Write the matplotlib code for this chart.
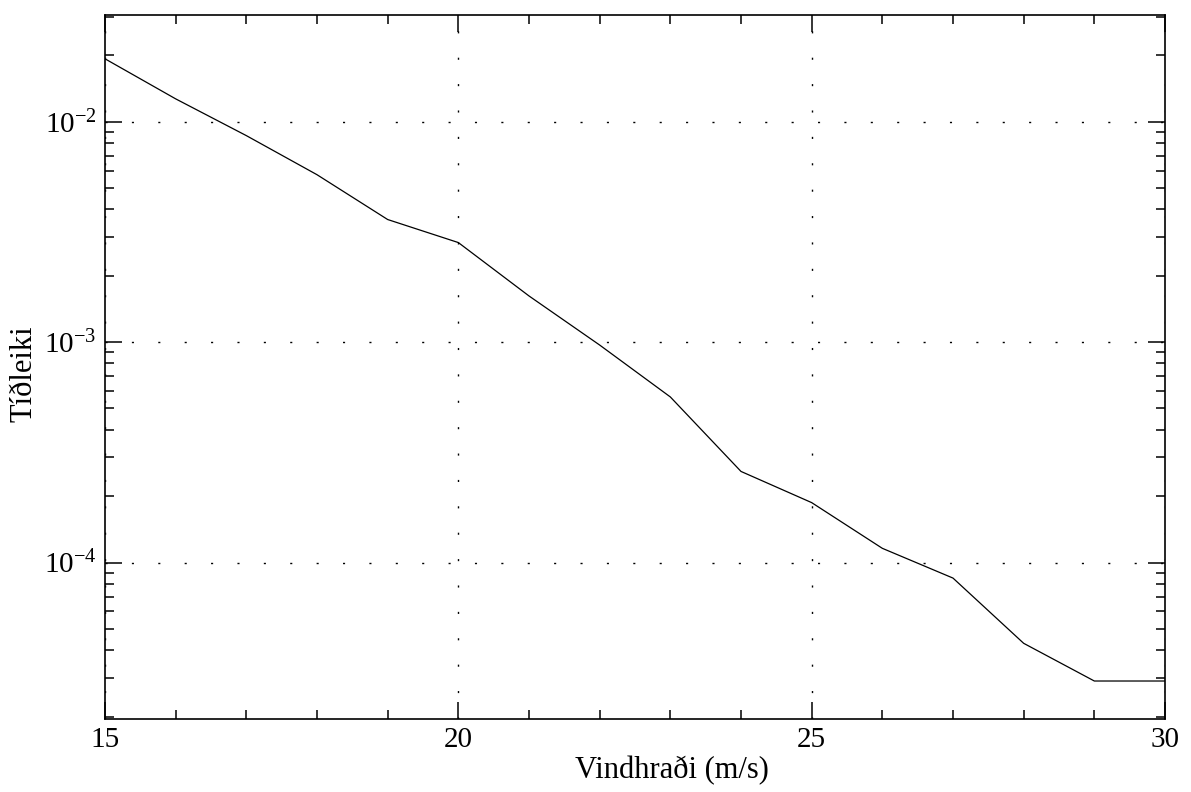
import numpy as np
import matplotlib
matplotlib.use("Agg")
import matplotlib.pyplot as plt
from matplotlib.ticker import LogLocator, LogFormatterMathtext, MultipleLocator, FixedLocator

plt.rcParams['font.family'] = ['Liberation Serif', 'DejaVu Serif']
plt.rcParams['mathtext.fontset'] = 'custom'
plt.rcParams['mathtext.rm'] = 'Liberation Serif'
plt.rcParams['mathtext.default'] = 'regular'

# vindhraði (m/s) og tíðleiki, lesið af myndinni
vindhradi = [15, 16, 17, 18, 19, 20, 21, 22, 23, 24, 25, 26, 27, 28, 29, 30]
tidleiki = [0.0193, 0.0127, 0.00865, 0.00575, 0.0036, 0.00283, 0.00162,
            0.00097, 0.000564, 0.000259, 0.000187, 0.000116, 8.5e-5,
            4.3e-5, 2.9e-5, 2.9e-5]

fig = plt.figure(figsize=(11.91, 7.92), dpi=100)
ax = fig.add_axes([105 / 1191, 1 - 719 / 792, 1060 / 1191, 704 / 792])

ax.plot(vindhradi, tidleiki, color='black', lw=0.9)

ax.set_yscale('log')
ax.set_xlim(15, 30)
ax.set_ylim(1.95e-5, 3.05e-2)

ax.xaxis.set_major_locator(FixedLocator([15, 20, 25, 30]))
ax.xaxis.set_minor_locator(MultipleLocator(1))
ax.yaxis.set_major_locator(LogLocator(base=10, numticks=10))
ax.yaxis.set_minor_locator(LogLocator(base=10, subs=np.arange(2, 10), numticks=20))
ax.yaxis.set_major_formatter(LogFormatterMathtext())

ax.tick_params(which='both', direction='in', top=True, right=True,
               labelsize=21, color='black', width=1.1)
ax.tick_params(which='major', length=12, pad=6)
ax.tick_params(which='minor', length=6.5)

ax.grid(True, which='major', color='black', lw=1.0, linestyle=(0, (1.5, 17.5)))

for s in ax.spines.values():
    s.set_linewidth(1.2)

ax.set_xlabel('Vindhraði (m/s)', fontsize=22)
ax.xaxis.set_label_coords(0.535, -0.052)
ax.set_ylabel('Tíðleiki', fontsize=22)
ax.yaxis.set_label_coords(-0.063, 0.49)

fig.savefig('out.png', dpi=100)
